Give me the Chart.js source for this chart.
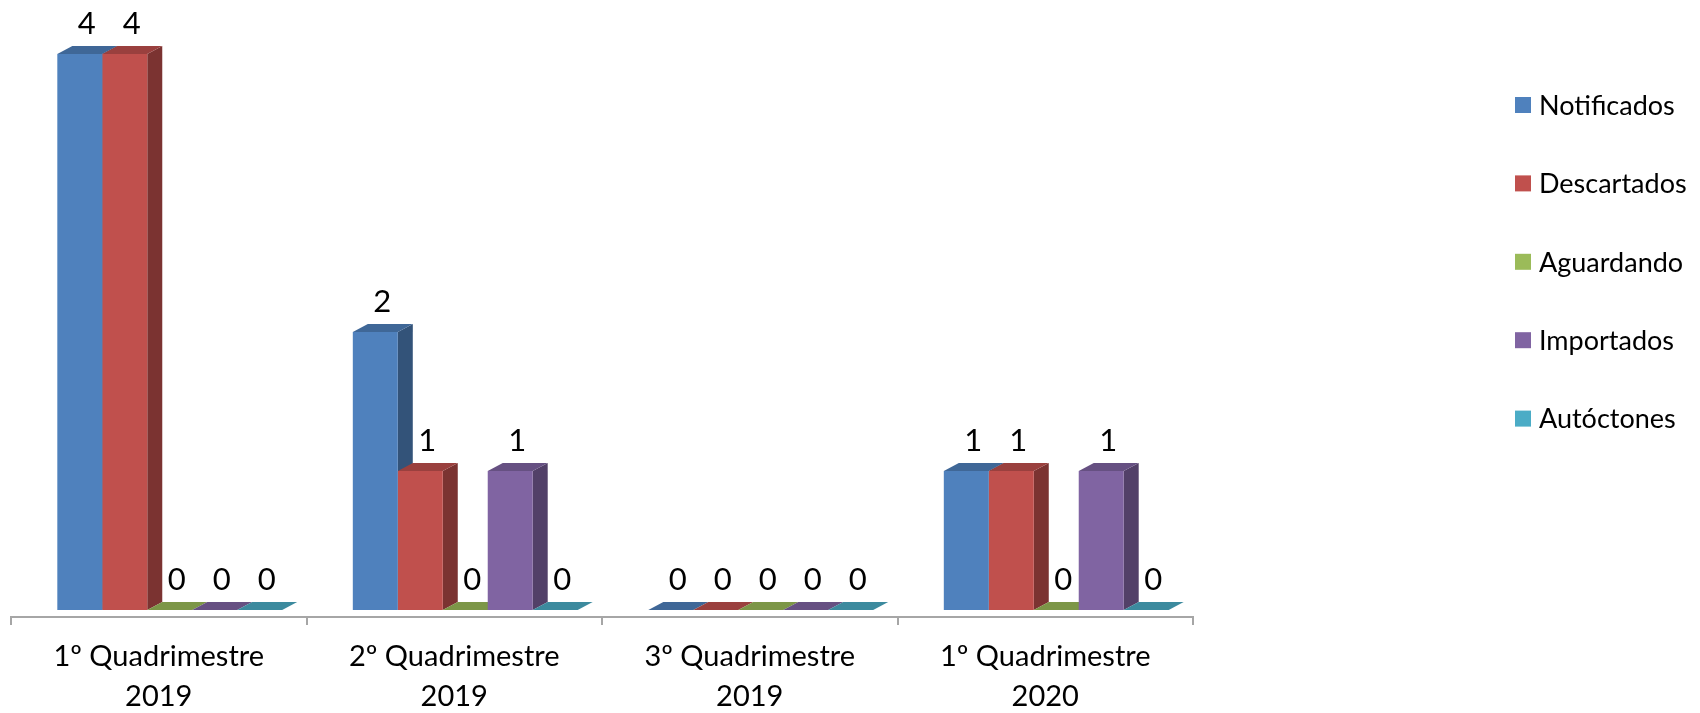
<!DOCTYPE html>
<html>
<head>
<meta charset="utf-8">
<script src="https://cdn.jsdelivr.net/npm/chart.js@4/dist/chart.umd.min.js"></script>
<style>
  html, body { margin: 0; padding: 0; background: #fff; }
  canvas { display: block; }
</style>
</head>
<body>
<canvas id="myChart" width="1700" height="713"></canvas>
<script>
'use strict';

// categories and series
const categories = [
  ['1º Quadrimestre', '2019'],
  ['2º Quadrimestre', '2019'],
  ['3º Quadrimestre', '2019'],
  ['1º Quadrimestre', '2020']
];
const seriesNames = ['Notificados', 'Descartados', 'Aguardando', 'Importados', 'Autóctones'];
const notificados = [4, 2, 0, 1];
const descartados = [4, 1, 0, 1];
const aguardando = [0, 0, 0, 0];
const importados = [0, 1, 0, 1];
const autoctones = [0, 0, 0, 0];
const seriesColors = ['#4F81BD', '#C0504D', '#9BBB59', '#8064A2', '#4BACC6'];

const FONT = 'Lato, "Open Sans", sans-serif';
const DEPTH_X = 15; // 3d depth to the right
const DEPTH_Y = 8;  // 3d depth upwards
const SHIFT = 11;   // bars sit a bit to the right of the axis, like the perspective in excel

// darken a hex color by a factor
function shade(hex, f) {
  let n = parseInt(hex.slice(1), 16);
  let r = Math.round(((n >> 16) & 255) * f);
  let g = Math.round(((n >> 8) & 255) * f);
  let b = Math.round((n & 255) * f);
  return `rgb(${r}, ${g}, ${b})`;
}

function poly(ctx, pts, color) {
  ctx.beginPath();
  ctx.moveTo(pts[0][0], pts[0][1]);
  for (let i = 1; i < pts.length; i++) ctx.lineTo(pts[i][0], pts[i][1]);
  ctx.closePath();
  ctx.fillStyle = color;
  ctx.fill();
}

// side and top faces go under the fronts that chart.js draws
const bars3d = {
  id: 'bars3d',
  beforeDatasetsDraw(chart) {
    let ctx = chart.ctx;
    ctx.save();
    ctx.translate(SHIFT, 0);
    let metas = chart.data.datasets.map((ds, i) => chart.getDatasetMeta(i));
    for (let c = 0; c < categories.length; c++) {
      metas.forEach((meta, i) => {
        let bar = meta.data[c].getProps(['x', 'y', 'base', 'width'], true);
        let color = seriesColors[i];
        let L = bar.x - bar.width / 2;
        let R = bar.x + bar.width / 2;
        let top = Math.min(bar.y, bar.base);
        if (bar.base - top > 0.5) {
          poly(ctx, [[R, top], [R + DEPTH_X, top - DEPTH_Y], [R + DEPTH_X, bar.base - DEPTH_Y], [R, bar.base]], shade(color, 0.64));
        }
        poly(ctx, [[L, top], [R, top], [R + DEPTH_X, top - DEPTH_Y], [L + DEPTH_X, top - DEPTH_Y]], shade(color, 0.8));
      });
    }
  },
  afterDatasetsDraw(chart) {
    let ctx = chart.ctx;
    // value labels
    ctx.fillStyle = '#000';
    ctx.font = `31px ${FONT}`;
    ctx.textAlign = 'center';
    ctx.textBaseline = 'middle';
    chart.data.datasets.forEach((ds, i) => {
      let meta = chart.getDatasetMeta(i);
      meta.data.forEach((el, c) => {
        let bar = el.getProps(['x', 'y', 'base'], true);
        ctx.fillText(String(ds.data[c]), bar.x + 7, Math.min(bar.y, bar.base) - 30);
      });
    });
    ctx.restore();
  },
  afterDraw(chart) {
    // legend on the right
    let ctx = chart.ctx;
    ctx.save();
    ctx.font = `27px ${FONT}`;
    ctx.textAlign = 'left';
    ctx.textBaseline = 'middle';
    chart.data.datasets.forEach((ds, i) => {
      let y = 105 + 78.4 * i;
      ctx.fillStyle = ds.backgroundColor;
      ctx.fillRect(1515, y - 8, 16, 16);
      ctx.fillStyle = '#000';
      ctx.fillText(ds.label, 1539, y + 1);
    });
    ctx.restore();
  }
};

let seriesData = [notificados, descartados, aguardando, importados, autoctones];

let ctx = document.getElementById('myChart');
let myChart = new Chart(ctx, {
  type: 'bar',
  data: {
    labels: categories,
    datasets: seriesNames.map((name, i) => ({
      label: name,
      data: seriesData[i],
      backgroundColor: seriesColors[i],
      borderWidth: 0,
      categoryPercentage: 0.761,
      barPercentage: 1,
      clip: false
    }))
  },
  options: {
    responsive: false,
    animation: false,
    devicePixelRatio: 1,
    layout: { padding: { top: 54, left: 11, right: 507, bottom: 0 } },
    plugins: {
      legend: { display: false },
      tooltip: { enabled: false }
    },
    scales: {
      x: {
        offset: true,
        grid: { offset: true, drawOnChartArea: false, drawTicks: true, tickLength: 8, color: '#A6A6A6', lineWidth: 2 },
        border: { display: true, color: '#A6A6A6', width: 2 },
        ticks: {
          color: '#000',
          font: { family: FONT, size: 29, lineHeight: 1.38 },
          padding: 12,
          maxRotation: 0,
          autoSkip: false
        },
        afterFit(scale) { scale.height = 96; }
      },
      y: {
        display: false,
        min: -0.0504,
        max: 4
      }
    }
  },
  plugins: [bars3d]
});
</script>
</body>
</html>
